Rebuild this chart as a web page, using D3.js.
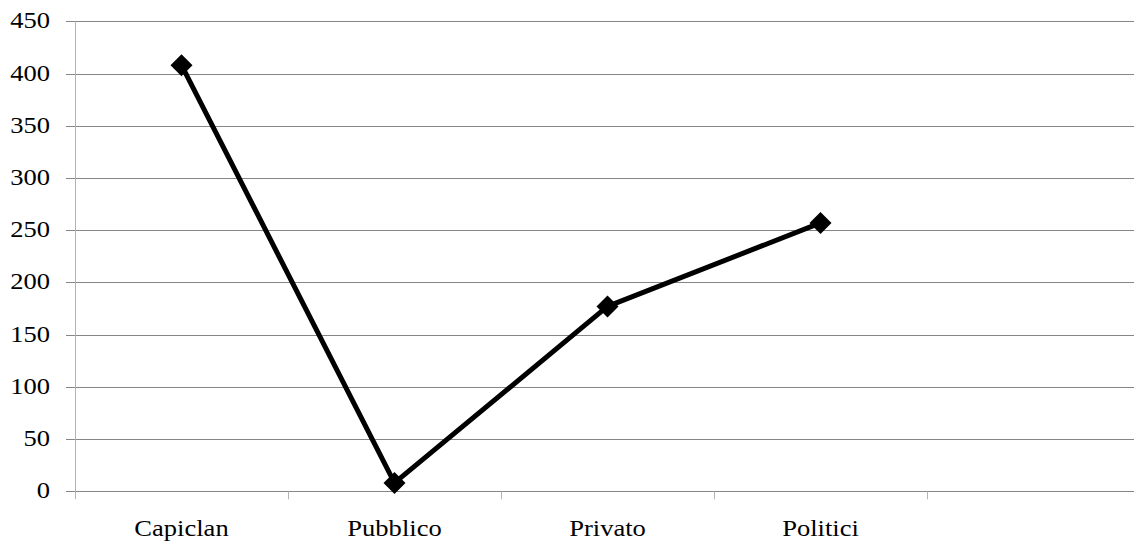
<!DOCTYPE html>
<html><head><meta charset="utf-8">
<script src="https://cdn.jsdelivr.net/npm/d3@7"></script>
<style>body{margin:0;background:#fff}svg{display:block}
svg text{font-family:"Liberation Serif";}</style>
</head><body>
<svg id="c" width="1134" height="545"></svg>
<script>
const categories = ["Capiclan","Pubblico","Privato","Politici",""];
const values = [408, 8, 177, 257];
const yTicks = [0,50,100,150,200,250,300,350,400,450];

const svg = d3.select("#c");
const mLeft = 75, mTop = 21.3, mBottom = 491.3, bandW = 213;
const x = d3.scaleBand().domain(categories).range([mLeft, mLeft + bandW*categories.length]);
const y = d3.scaleLinear().domain([0,450]).range([mBottom, mTop]);
const sx = 1.13, fs = 23.5;

// gridlines
svg.append("g").selectAll("line").data(yTicks).join("line")
  .attr("x1", mLeft-9).attr("x2", 1134)
  .attr("y1", d=>Math.round(y(d))+0.5).attr("y2", d=>Math.round(y(d))+0.5)
  .attr("stroke", "#868686").attr("stroke-width", 1);
// y axis line
svg.append("line").attr("x1", mLeft+0.5).attr("x2", mLeft+0.5).attr("y1", y(450)).attr("y2", mBottom+8)
  .attr("stroke", "#b4b4b4").attr("stroke-width", 1);
// x ticks at band boundaries
const bounds = categories.map(c=>x(c)).slice(1).concat([x(categories[categories.length-1])+bandW]);
svg.append("g").selectAll("line").data(bounds).join("line")
  .attr("x1", d=>Math.round(d)+0.5).attr("x2", d=>Math.round(d)+0.5)
  .attr("y1", mBottom).attr("y2", mBottom+8)
  .attr("stroke", "#b4b4b4").attr("stroke-width", 1);
// y labels
svg.append("g").selectAll("text").data(yTicks).join("text")
  .attr("transform", d=>`translate(50,${y(d)+7}) scale(${sx},1)`)
  .attr("text-anchor","end").style("font-size", fs+"px").attr("fill","#000")
  .text(d=>d);
// x labels
svg.append("g").selectAll("text").data(categories.filter(c=>c)).join("text")
  .attr("transform", d=>`translate(${x(d)+x.bandwidth()/2},536) scale(${sx},1)`)
  .attr("text-anchor","middle").style("font-size", fs+"px").attr("fill","#000")
  .text(d=>d);
// line
const pts = values.map((v,i)=>[x(categories[i])+x.bandwidth()/2, y(v)]);
svg.append("path").attr("d", d3.line()(pts)).attr("fill","none").attr("stroke","#000")
  .attr("stroke-width",5).attr("stroke-linejoin","round");
// markers
svg.append("g").selectAll("path").data(pts).join("path")
  .attr("transform", d=>`translate(${d[0]},${d[1]})`)
  .attr("d", "M0,-11L11,0L0,11L-11,0Z").attr("fill","#000");
</script>
</body></html>
